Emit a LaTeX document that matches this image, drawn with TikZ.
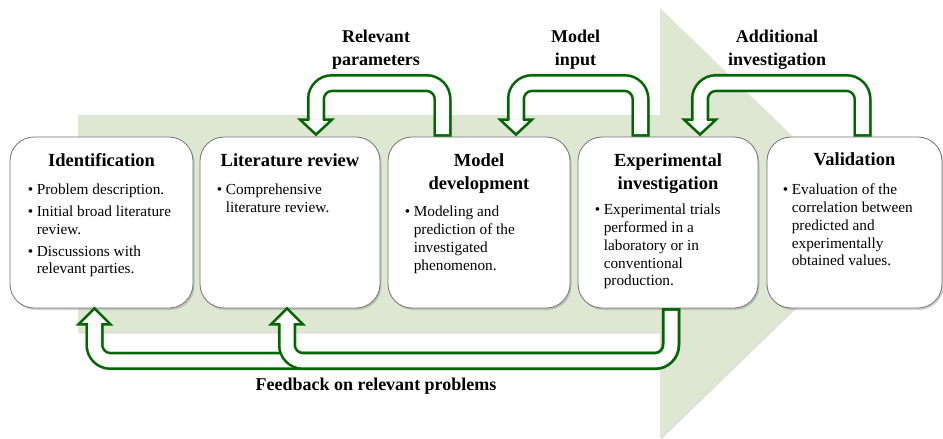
\documentclass[tikz,border=0pt]{standalone}
\usepackage{fontspec}
\setmainfont{Liberation Serif}
\usetikzlibrary{calc,shadows}
\definecolor{bgreen}{RGB}{221,231,210}
\definecolor{agreen}{RGB}{0,102,0}
\definecolor{bordergray}{RGB}{115,115,115}
\newcommand\bodyfont{\fontsize{15.3}{17.8}\selectfont}
\newcommand\bul{\makebox[9pt][l]{\textbullet}}
\newcommand\tubeshade[1]{\draw[tubeshadow] #1;}
\newcommand\tubebody[1]{\draw[tubeout] #1; \draw[tubein] #1;}
\newcommand\headdown[1]{%
  \fill[headshadow] ($(#1)+(-16,0)$) -- ($(#1)+(0,15)$) -- ($(#1)+(16,0)$) -- cycle;
  \filldraw[headst] ($(#1)+(-6.75,0)$) -- ($(#1)+(-16,0)$) -- ($(#1)+(0,15)$) -- ($(#1)+(16,0)$) -- ($(#1)+(6.75,0)$);}
\newcommand\headup[1]{%
  \fill[headshadow] ($(#1)+(-16,0)$) -- ($(#1)+(0,-16)$) -- ($(#1)+(16,0)$) -- cycle;
  \filldraw[headst] ($(#1)+(-6.75,0)$) -- ($(#1)+(-16,0)$) -- ($(#1)+(0,-16)$) -- ($(#1)+(16,0)$) -- ($(#1)+(6.75,0)$);}
\begin{document}
\begin{tikzpicture}[x=1pt,y=-1pt,
  procbox/.style={draw=bordergray, line width=0.8pt, fill=white, rounded corners=24pt,
    minimum height=171pt, inner sep=0pt,
    drop shadow={shadow xshift=1.5pt, shadow yshift=-2pt, opacity=0.35}},
  ttl/.style={font=\bfseries\fontsize{18.5}{23}\selectfont, align=center, inner sep=0pt, anchor=base},
  lbl/.style={font=\bfseries\fontsize{18}{23}\selectfont, align=center, inner sep=0pt, anchor=base},
  btxt/.style={font=\bodyfont, inner sep=0pt, anchor=base west},
  tubeout/.style={draw=agreen, line width=18pt, rounded corners=16pt},
  tubein/.style={draw=white, line width=13pt, rounded corners=16pt, shorten <=2.5pt},
  tubeshadow/.style={draw=black, opacity=0.18, line width=19pt, rounded corners=16pt, shift={(2,2)}},
  headst/.style={fill=white, draw=agreen, line width=2.5pt, line join=miter},
  headshadow/.style={fill=black, opacity=0.18, shift={(2,2)}}]
\useasboundingbox (0,0) rectangle (943,439);
\fill[white] (0,0) rectangle (943,439);
% background process arrow
\fill[bgreen, drop shadow={shadow xshift=1pt, shadow yshift=-1.5pt, opacity=0.25}]
  (78,115) -- (660,115) -- (660,8) -- (882,223) -- (660,438) -- (660,332) -- (78,332) -- cycle;
% boxes
\node[procbox, minimum width=183pt] (b1) at (101.5,222.5) {};
\node[procbox, minimum width=180pt] (b2) at (290,222.5) {};
\node[procbox, minimum width=182pt] (b3) at (479,222.5) {};
\node[procbox, minimum width=180pt] (b4) at (668,222.5) {};
\node[procbox, minimum width=175pt] (b5) at (854.5,222.5) {};
% titles (anchor base = last line)
\node[ttl] (t1) at ($(b1.north)+(0,30)$) {Identification};
\node[ttl] (t2) at ($(b2.north)+(0,30)$) {Literature review};
\node[ttl] (t3) at ($(b3.north)+(0,53)$) {Model\\development};
\node[ttl] (t4) at ($(b4.north)+(0,53)$) {Experimental\\investigation};
\node[ttl] (t5) at ($(b5.north)+(0,29)$) {Validation};
% bodies
\node[btxt] (x1) at ($(b1.north west)+(18,58)$) {\begin{tabular}[t]{@{}l@{}l@{}}\bul & Problem description.\\[4pt] \bul & Initial broad literature\\ & review.\\[4pt] \bul & Discussions with\\ & relevant parties.\end{tabular}};
\node[btxt] (x2) at ($(b2.north west)+(17,58)$) {\begin{tabular}[t]{@{}l@{}l@{}}\bul & Comprehensive\\ & literature review.\end{tabular}};
\node[btxt] (x3) at ($(b3.north west)+(17,80)$) {\begin{tabular}[t]{@{}l@{}l@{}}\bul & Modeling and\\ & prediction of the\\ & investigated\\ & phenomenon.\end{tabular}};
\node[btxt] (x4) at ($(b4.north west)+(17,78)$) {\begin{tabular}[t]{@{}l@{}l@{}}\bul & Experimental trials\\ & performed in a\\ & laboratory or in\\ & conventional\\ & production.\end{tabular}};
\node[btxt] (x5) at ($(b5.north west)+(16,58)$) {\begin{tabular}[t]{@{}l@{}l@{}}\bul & Evaluation of the\\ & correlation between\\ & predicted and\\ & experimentally\\ & obtained values.\end{tabular}};
% labels (anchor base = last line)
\node[lbl] (l1) at (376,65) {Relevant\\parameters};
\node[lbl] (l2) at (575.5,65) {Model\\input};
\node[lbl] (l3) at (777,65) {Additional\\investigation};
\node[lbl] (l4) at (376,390) {Feedback on relevant problems};
% connector coordinates
\coordinate (s1) at ($(b3.north)+(-36.5,0)$);
\coordinate (c1) at ($(b3.north)+(-36.5,-53.5)$);
\coordinate (h1) at ($(b2.north)+(26,-17)$);
\coordinate (s2) at ($(b4.north)+(-27.5,0)$);
\coordinate (c2) at ($(b4.north)+(-27.5,-53.5)$);
\coordinate (h2) at ($(b3.north)+(37,-17)$);
\coordinate (s3) at ($(b5.north)+(8,0)$);
\coordinate (c3) at ($(b5.north)+(8,-53.5)$);
\coordinate (h3) at ($(b4.north)+(32,-17)$);
\coordinate (s4) at ($(b4.south)+(3,0)$);
\coordinate (c4) at ($(b4.south)+(3,52.5)$);
\coordinate (h4) at ($(b1.south)+(-7,16)$);
\coordinate (h5) at ($(b2.south)+(-3,16)$);
% shadows of connectors
\tubeshade{(s1) -- (c1) -- (c1 -| h1) -- ($(h1)+(0,1)$)}
\tubeshade{(s2) -- (c2) -- (c2 -| h2) -- ($(h2)+(0,1)$)}
\tubeshade{(s3) -- (c3) -- (c3 -| h3) -- ($(h3)+(0,1)$)}
\tubeshade{(s4) -- (c4) -- (c4 -| h4) -- ($(h4)+(0,-1)$)}
\tubeshade{(s4) -- (c4) -- (c4 -| h5) -- ($(h5)+(0,-1)$)}
% connectors
\tubebody{(s1) -- (c1) -- (c1 -| h1) -- ($(h1)+(0,1)$)}
\headdown{h1}
\tubebody{(s2) -- (c2) -- (c2 -| h2) -- ($(h2)+(0,1)$)}
\headdown{h2}
\tubebody{(s3) -- (c3) -- (c3 -| h3) -- ($(h3)+(0,1)$)}
\headdown{h3}
\tubebody{(s4) -- (c4) -- (c4 -| h4) -- ($(h4)+(0,-1)$)}
\headup{h4}
\tubebody{(s4) -- (c4) -- (c4 -| h5) -- ($(h5)+(0,-1)$)}
\headup{h5}
\end{tikzpicture}
\end{document}
